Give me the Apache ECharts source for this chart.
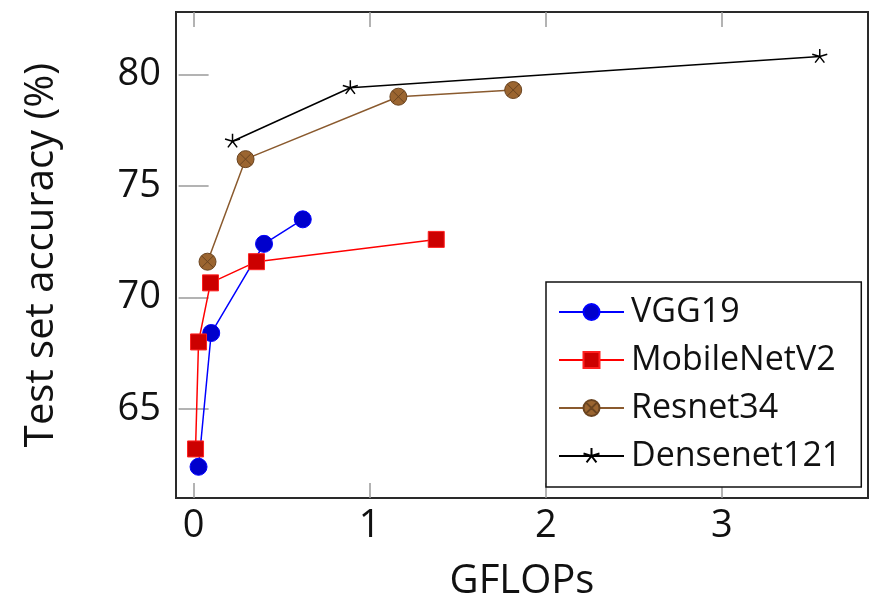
<!DOCTYPE html>
<html>
<head>
<meta charset="utf-8">
<script src="https://cdn.jsdelivr.net/npm/echarts@6/dist/echarts.min.js"></script>
<style>
  html, body { margin: 0; padding: 0; background: #fff; }
  #chart { width: 870px; height: 604px; }
</style>
</head>
<body>
<div id="chart"></div>
<script>
// GFLOPs vs. test accuracy for four network families
const vgg19X = [0.028, 0.10, 0.40, 0.62];
const vgg19Y = [62.4, 68.4, 72.4, 73.5];
const mobilenetX = [0.011, 0.028, 0.096, 0.357, 1.378];
const mobilenetY = [63.2, 68.0, 70.65, 71.6, 72.6];
const resnetX = [0.079, 0.295, 1.163, 1.815];
const resnetY = [71.6, 76.2, 79.0, 79.3];
const densenetX = [0.221, 0.89, 3.556];
const densenetY = [77.0, 79.4, 80.8];
const xTicks = [0, 1, 2, 3];
const yTicks = [65, 70, 75, 80];
const seriesNames = ['VGG19', 'MobileNetV2', 'Resnet34', 'Densenet121'];

const pairs = (xs, ys) => xs.map((x, i) => [x, ys[i]]);

const FONT = 'Open Sans';
const starPath = 'path://M0,0L0,-10M0,0L9.51,-3.09M0,0L5.88,8.09M0,0L-5.88,8.09M0,0L-9.51,-3.09M0,10';
const otimesPath = 'path://M-10,0A10,10,0,1,1,10,0A10,10,0,1,1,-10,0ZM-7.07,-7.07L7.07,7.07M7.07,-7.07L-7.07,7.07';

const xRange = { min: -0.1, max: 3.83 };
const yRange = { min: 61, max: 82.8 };

const tickStyle = { show: true, inside: true, length: 15, lineStyle: { color: '#9a9a9a', width: 1.5 } };

const chart = echarts.init(document.getElementById('chart'), null, { renderer: 'canvas' });
chart.setOption({
  animation: false,
  backgroundColor: '#fff',
  textStyle: { fontFamily: FONT },
  grid: {
    left: 176, top: 12, width: 692, height: 486,
    outerBoundsMode: 'none', containLabel: false,
    show: true, borderColor: '#2a2a2a', borderWidth: 2, backgroundColor: 'transparent'
  },
  legend: {
    data: seriesNames,
    orient: 'vertical',
    left: 546, top: 282,
    width: 315,
    padding: [13, 20, 14, 12],
    itemGap: 14,
    itemWidth: 65,
    itemHeight: 20,
    borderColor: '#111', borderWidth: 1.5,
    backgroundColor: '#fff',
    textStyle: { fontFamily: FONT, fontSize: 34, color: '#111', padding: [0, 0, 0, 2] }
  },
  xAxis: [
    {
      type: 'value', ...xRange, position: 'bottom',
      name: 'GFLOPs', nameLocation: 'middle', nameGap: 64,
      nameTextStyle: { fontFamily: FONT, fontSize: 40, color: '#111' },
      axisLine: { show: false },
      splitLine: { show: false },
      axisTick: { ...tickStyle, customValues: xTicks },
      axisLabel: { customValues: xTicks, margin: 9, fontSize: 38, color: '#111', fontFamily: FONT }
    },
    {
      type: 'value', ...xRange, position: 'top',
      axisLine: { show: false }, splitLine: { show: false },
      axisTick: { ...tickStyle, customValues: xTicks },
      axisLabel: { show: false }
    }
  ],
  yAxis: [
    {
      type: 'value', ...yRange, position: 'left',
      name: 'Test set accuracy (%)', nameLocation: 'middle', nameGap: 114, nameRotate: 90,
      nameTextStyle: { fontFamily: FONT, fontSize: 40, color: '#111' },
      axisLine: { show: false }, splitLine: { show: false },
      axisTick: { ...tickStyle, customValues: yTicks },
      axisLabel: { customValues: yTicks, margin: 15, fontSize: 38, color: '#111', fontFamily: FONT }
    },
    {
      type: 'value', ...yRange, position: 'right',
      axisLine: { show: false }, splitLine: { show: false },
      axisTick: { ...tickStyle, customValues: yTicks },
      axisLabel: { show: false }
    }
  ],
  series: [
    {
      name: 'VGG19', type: 'line', data: pairs(vgg19X, vgg19Y),
      symbol: 'circle', symbolSize: 17,
      lineStyle: { color: '#0000ff', width: 1.5 },
      itemStyle: { color: '#0000cc', borderColor: '#0000ff', borderWidth: 1 }
    },
    {
      name: 'MobileNetV2', type: 'line', data: pairs(mobilenetX, mobilenetY),
      symbol: 'rect', symbolSize: 16,
      lineStyle: { color: '#ff0000', width: 1.5 },
      itemStyle: { color: '#cc0000', borderColor: '#ff2020', borderWidth: 1 }
    },
    {
      name: 'Resnet34', type: 'line', data: pairs(resnetX, resnetY),
      symbol: otimesPath, symbolSize: 17,
      lineStyle: { color: '#8a5a2e', width: 1.5 },
      itemStyle: { color: '#9b6530', borderColor: '#6a4420', borderWidth: 1 }
    },
    {
      name: 'Densenet121', type: 'line', data: pairs(densenetX, densenetY),
      symbol: starPath, symbolSize: 15,
      lineStyle: { color: '#000', width: 1.5 },
      itemStyle: { color: 'transparent', borderColor: '#000', borderWidth: 1.5 }
    }
  ]
});
</script>
</body>
</html>
